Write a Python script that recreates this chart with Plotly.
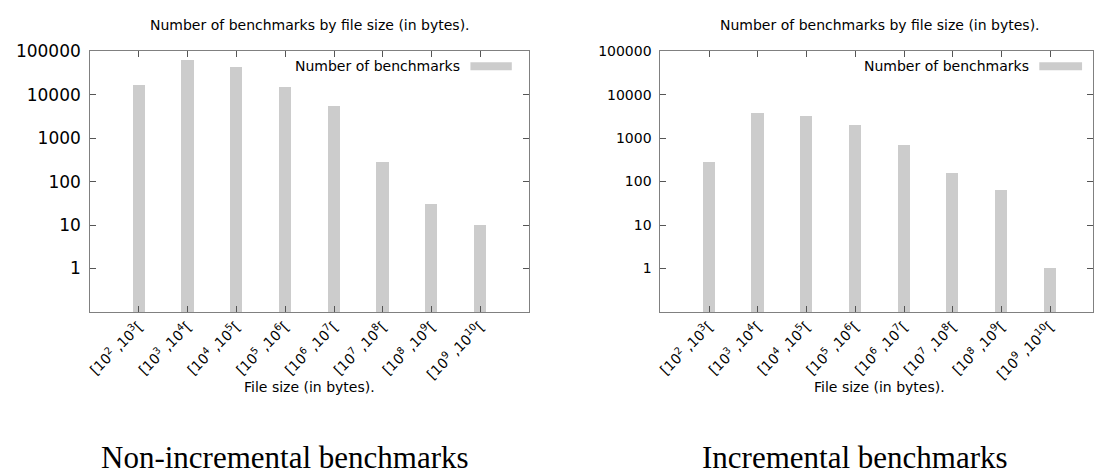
import plotly.graph_objects as go

W, H = 1094, 474

categories = [
    "[10<sup>2</sup> ,10<sup>3</sup>[",
    "[10<sup>3</sup> ,10<sup>4</sup>[",
    "[10<sup>4</sup> ,10<sup>5</sup>[",
    "[10<sup>5</sup> ,10<sup>6</sup>[",
    "[10<sup>6</sup> ,10<sup>7</sup>[",
    "[10<sup>7</sup> ,10<sup>8</sup>[",
    "[10<sup>8</sup> ,10<sup>9</sup>[",
    "[10<sup>9</sup> ,10<sup>10</sup>[",
]
non_incremental = [16900, 60500, 44000, 15100, 5300, 280, 31, 10]
incremental = [279, 3730, 3130, 1950, 681, 155, 63, 1]

ytick_vals = [1, 10, 100, 1000, 10000, 100000]
ytick_text = ["1", "10", "100", "1000", "10000", "100000"]

chart_title = "Number of benchmarks by file size (in bytes)."
x_title = "File size (in bytes)."
legend_name = "Number of benchmarks"
captions = ["Non-incremental benchmarks", "Incremental benchmarks"]

BAR = "#cccccc"
AXC = "#808080"
FONT = "DejaVu Sans"


def px(x):
    return x / W


def py(y):
    return 1 - y / H


# plot area geometry (pixels)
left_x0, left_x1 = 85.7, 527.0
right_x0, right_x1_full = 659.0, 1100.0
right_x1 = 1094.0
y_top, y_bot = 42.0, 308.5

fig = go.Figure()
fig.add_trace(go.Bar(x=categories, y=non_incremental, width=0.25,
                     marker=dict(color=BAR, line=dict(width=0)),
                     name=legend_name, showlegend=False,
                     xaxis="x", yaxis="y"))
fig.add_trace(go.Bar(x=categories, y=incremental, width=0.25,
                     marker=dict(color=BAR, line=dict(width=0)),
                     name=legend_name, showlegend=False,
                     xaxis="x2", yaxis="y2"))

common_x = dict(type="category", categoryorder="array", categoryarray=categories,
                showline=True, linecolor=AXC, linewidth=1, mirror="ticks",
                ticks="inside", ticklen=6, tickcolor="#555555", tickwidth=1,
                tickangle=-45, tickfont=dict(family=FONT, size=14, color="black"),
                showgrid=False, zeroline=False, fixedrange=True)
common_y = dict(type="log", range=[-1, 5], tickvals=ytick_vals, ticktext=ytick_text,
                showline=True, linecolor=AXC, linewidth=1, mirror="ticks",
                ticks="inside", ticklen=6, tickcolor="#555555", tickwidth=1,
                ticklabelstandoff=5,
                showgrid=False, zeroline=False, fixedrange=True)

right_range_hi = -1 + 9 * (right_x1 - right_x0) / (right_x1_full - right_x0)

fig.update_layout(
    width=W, height=H,
    margin=dict(l=0, r=0, t=0, b=0),
    paper_bgcolor="white", plot_bgcolor="white",
    showlegend=False,
    bargap=0,
    xaxis=dict(common_x, domain=[px(left_x0), px(left_x1)], range=[-1, 8], anchor="y"),
    yaxis=dict(common_y, domain=[py(y_bot), py(y_top)], anchor="x",
               tickfont=dict(family=FONT, size=17, color="black")),
    xaxis2=dict(common_x, domain=[px(right_x0), px(right_x1)], range=[-1, right_range_hi],
                anchor="y2"),
    yaxis2=dict(common_y, domain=[py(y_bot), py(y_top)], anchor="x2",
                tickfont=dict(family=FONT, size=14, color="black")),
)

annotations = []
shapes = []
for (cx, leg_text_end, leg_x0, leg_x1) in [
    ((left_x0 + left_x1) / 2, 459.7, 468.0, 509.6),
    ((right_x0 + right_x1_full) / 2, 1031.7, 1040.0, 1083.0),
]:
    annotations.append(dict(text=chart_title, x=px(cx), y=py(15.5), xref="paper", yref="paper",
                            xanchor="center", yanchor="middle", showarrow=False,
                            font=dict(family=FONT, size=14, color="black")))
    annotations.append(dict(text=x_title, x=px(cx), y=py(385), xref="paper", yref="paper",
                            xanchor="center", yanchor="middle", showarrow=False,
                            font=dict(family=FONT, size=14, color="black")))
    annotations.append(dict(text=legend_name, x=px(leg_text_end), y=py(57.5), xref="paper",
                            yref="paper", xanchor="right", yanchor="middle", showarrow=False,
                            font=dict(family=FONT, size=14, color="black")))
    shapes.append(dict(type="rect", xref="paper", yref="paper",
                       x0=px(leg_x0), x1=px(leg_x1), y0=py(61.5), y1=py(53.5),
                       fillcolor=BAR, line=dict(width=0)))

for cap, cap_x in zip(captions, [282.0, 855.0]):
    annotations.append(dict(text=cap, x=px(cap_x), y=py(457), xref="paper", yref="paper",
                            xanchor="center", yanchor="middle", showarrow=False,
                            font=dict(family="Liberation Serif", size=31, color="black")))

fig.update_layout(annotations=annotations, shapes=shapes)

fig.write_html("out.html",
               config={"displayModeBar": False},
               post_script="document.body.style.margin='0';document.body.style.overflow='hidden';")
